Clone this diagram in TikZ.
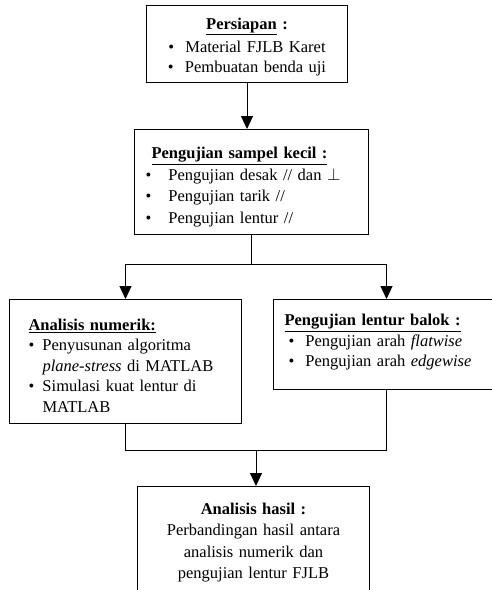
\documentclass[tikz,border=0pt]{standalone}
\usepackage{fontspec}
\setmainfont{Liberation Serif}
\usetikzlibrary{arrows.meta,calc}
\newcommand\itembul[1][17pt]{\makebox[#1][l]{\textbullet}}
\begin{document}
\begin{tikzpicture}[x=1pt,y=-1pt,
  font=\fontsize{16.5}{20.5}\selectfont,
  box/.style={draw, line width=1pt, anchor=north west, inner ysep=0pt},
  conn/.style={line width=1pt},
  arr/.style={conn,-{Triangle[width=12pt,length=13pt]}}]
\useasboundingbox (0,0) rectangle (492,590);
\clip (0,0) rectangle (492,590);
\fill[white] (0,0) rectangle (492,590);

\node[box, text width=201pt, inner xsep=0pt, minimum height=77pt, align=center] (prep) at (146,5)
  {\rule{0pt}{18pt}\underline{\textbf{Persiapan}}\textbf{ :}\\[2pt]
   \itembul Material FJLB Karet\\
   \itembul Pembuatan benda uji};

\node[box, text width=212pt, inner xsep=11pt, minimum height=105pt, align=left] (small) at (134,129)
  {\rule{0pt}{22pt}\hspace*{6pt}\underline{\textbf{Pengujian sampel kecil :}}\\[1pt]
   \itembul[23pt]Pengujian desak // dan $\perp$\\[1pt]
   \itembul[23pt]Pengujian tarik //\\[1pt]
   \itembul[23pt]Pengujian lentur //};

\node[box, text width=194pt, inner xsep=19pt, minimum height=124pt, align=left] (num) at (9,299)
  {\rule{0pt}{20pt}\underline{\textbf{Analisis numerik:}}\\
   \itembul[14pt]Penyusunan algoritma\\
   \hspace*{14pt}\textit{plane-stress} di MATLAB\\
   \itembul[14pt]Simulasi kuat lentur di\\
   \hspace*{14pt}MATLAB};

\node[box, text width=204pt, inner xsep=11pt, minimum height=90pt, align=left] (beam) at (273,299)
  {\underline{\textbf{Pengujian lentur balok :}}\\
   \hspace*{4pt}\itembul Pengujian arah \textit{flatwise}\\
   \hspace*{4pt}\itembul Pengujian arah \textit{edgewise}\rule[-8pt]{0pt}{8pt}};

\node[box, text width=232pt, inner xsep=0pt, minimum height=112pt, align=center] (res) at (137,486)
  {\textbf{Analisis hasil :}\\[1pt]
   Perbandingan hasil antara\\[1pt]
   analisis numerik dan\\[1pt]
   pengujian lentur FJLB};

\draw[arr] (prep.south) -- (prep.south |- small.north);
\coordinate (split) at ([yshift=-29pt]small.south);
\draw[conn] (small.south) -- (split);
\draw[arr] (split) -| (num.north);
\draw[arr] (split) -| (beam.north);
\coordinate (joinL) at ([yshift=-26pt]num.south);
\coordinate (joinR) at (joinL -| beam.south);
\draw[conn] (num.south) -- (joinL) -- (joinR) -- (beam.south);
\coordinate (mid) at ($(joinL)!0.5!(joinR)$);
\draw[arr] (mid) -- (mid |- res.north);
\end{tikzpicture}
\end{document}
